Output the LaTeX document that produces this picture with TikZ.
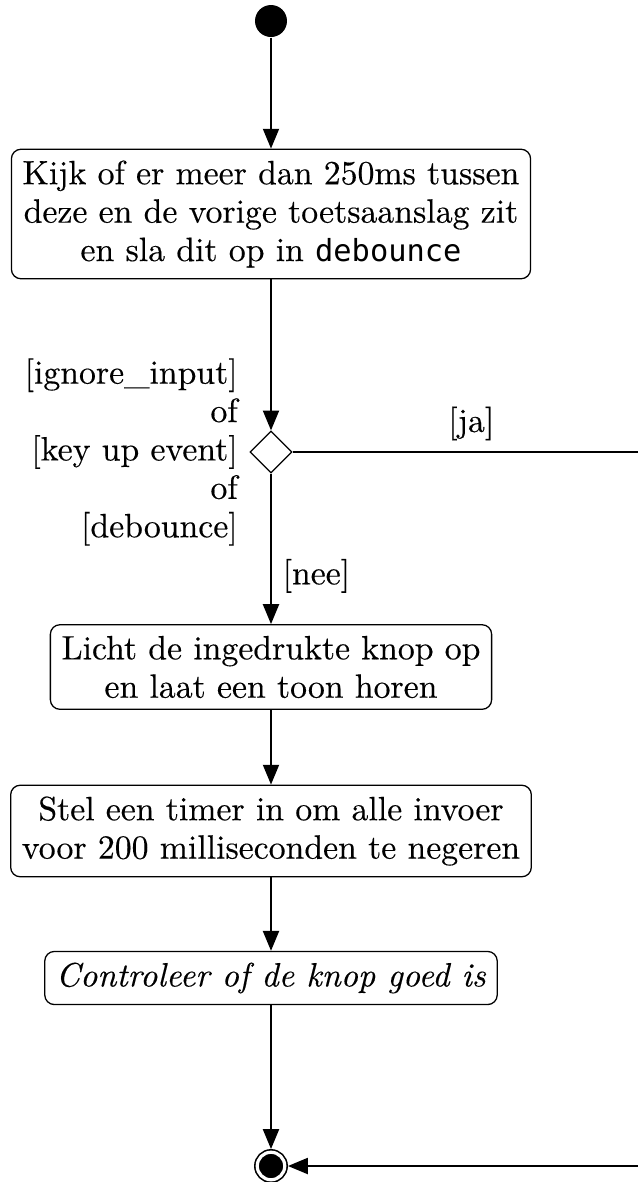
\documentclass[tikz,border=0pt]{standalone}
\usepackage{fontspec}
\setmainfont{Latin Modern Roman}[FakeBold=0.3]
\newfontfamily\codefont[Scale=0.9]{DejaVu Sans Mono}
\usetikzlibrary{arrows.meta,shapes.geometric}

\tikzset{
	actie/.style={draw, rounded corners=3pt, align=center, inner sep=3.5pt, line width=0.4pt},
	beginpunt/.style={circle, fill=black, minimum size=10pt, inner sep=0pt},
	eindpunt/.style={circle, draw, fill=black, double=white, double distance=1pt, line width=0.5pt, minimum size=8.6pt, inner sep=0pt, outer sep=1pt},
	keuze/.style={diamond, draw, line width=0.4pt, minimum width=13.1pt, minimum height=13.1pt, inner sep=0pt},
	pijl/.style={->, line width=0.6pt}
}

\begin{document}
\begin{tikzpicture}[x=0.3125pt, y=-0.3125pt, >={Triangle[length=6.2pt,width=5pt]}, font=\fontsize{10.55pt}{12pt}\selectfont]
			\useasboundingbox (0,0) rectangle (638,1182);
			\node[beginpunt] (start) at (271,21) {};
			\node[actie] (kijk) at (271,214) {Kijk of er meer dan 250ms tussen\\deze en de vorige toetsaanslag zit\\en sla dit op in {\codefont debounce}};
			\node[keuze] (keuze) at (271,452) {};
			\node[anchor=east, align=right] (guard) at (249,452) {{[ignore\_input]}\\of\\{[key up event]}\\of\\{[debounce]}};
			\node[actie] (licht) at (271,667) {Licht de ingedrukte knop op\\en laat een toon horen};
			\node[actie] (timer) at (271,831) {Stel een timer in om alle invoer\\voor 200 milliseconden te negeren};
			\node[actie] (check) at (271,978) {\textit{Controleer of de knop goed is}};
			\node[eindpunt] (eind) at (271,1166) {};
			\coordinate (hoekboven) at (650,452);
			\coordinate (hoekonder) at (650,1166);
			\draw[pijl] (start) -- (kijk);
			\draw[pijl] (kijk) -- (keuze);
			\draw[pijl] 
				(keuze) -- node[pos=0.68, right](nee){[nee]} (licht);
			\draw[pijl] (licht) -- (timer);
			\draw[pijl] (timer) -- (check);
			\draw[pijl] (check) -- (eind);
			\draw[pijl] 
				(keuze) -- node[above](ja){[ja]} (hoekboven)
				-- (hoekonder)
				-- (eind);
		\end{tikzpicture}
\end{document}
